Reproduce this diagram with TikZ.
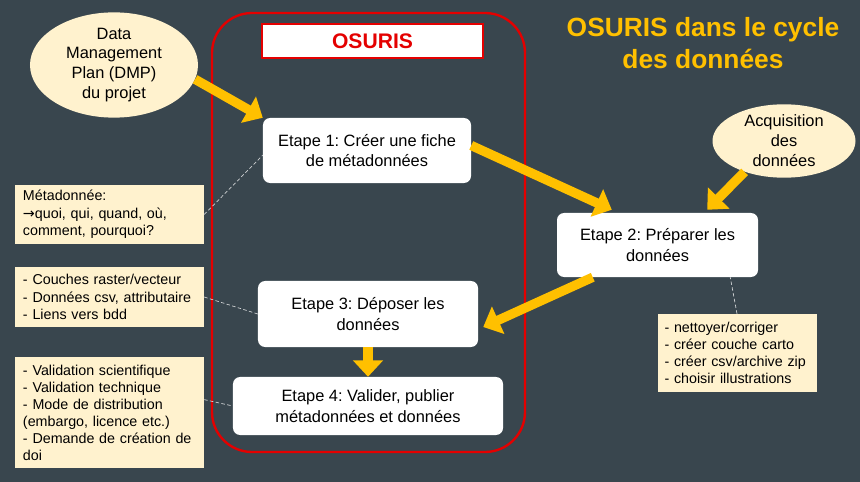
\documentclass[tikz,border=0pt]{standalone}
\usepackage{fontspec}
\setmainfont{Liberation Sans}
\newfontfamily\flechefont{DejaVu Sans}
\usetikzlibrary{calc,shapes.geometric,arrows.meta}
\definecolor{ardoise}{RGB}{57,70,78}
\definecolor{rouge}{RGB}{228,0,0}
\definecolor{ambre}{RGB}{255,192,0}
\definecolor{creme}{RGB}{255,242,206}
\definecolor{gristrait}{RGB}{205,208,210}
\frenchspacing

\begin{document}
\begin{tikzpicture}[x=0.03cm,y=-0.03cm,
  etape/.style={fill=white,rounded corners=6pt,align=center,inner sep=0pt,font=\fontsize{14}{17.8}\selectfont},
  bulle/.style={ellipse,fill=creme,inner sep=0pt,align=center,font=\fontsize{14}{17}\selectfont},
  note/.style={fill=creme,inner ysep=0pt,align=left,font=\fontsize{12.2}{14.9}\selectfont},
  fleche/.style={ambre,line width=8pt,-{Triangle[length=14pt,width=25pt]}},
  lien/.style={gristrait,dash pattern=on 3pt off 2pt,line width=0.6pt}]
\fill[ardoise] (0,0) rectangle (860,482);
% cadre OSURIS
\draw[rouge,line width=2pt,rounded corners=1.2cm] (212,13) rectangle (525,452);
\node[draw=rouge,line width=1.5pt,fill=white,minimum width=6.63cm,minimum height=1.02cm,text=rouge,font=\bfseries\fontsize{18}{20}\selectfont] (titre) at (372.5,41) {OSURIS};
\node[text=ambre,align=center,font=\bfseries\fontsize{22.5}{28}\selectfont] (entete) at (703,43) {OSURIS dans le cycle\\des données};

% bulles
\node[bulle,minimum width=5.04cm,minimum height=3.12cm] (dmp) at (114,65) {Data\\Management\\Plan (DMP)\\du projet};
\node[bulle,minimum width=4.29cm,minimum height=2.19cm] (acq) at (784,141) {Acquisition\\des\\données};

% etapes
\node[etape,minimum width=6.24cm,minimum height=1.95cm] (e1) at (367,150.5) {Etape 1: Créer une fiche\\de métadonnées};
\node[etape,minimum width=6.03cm,minimum height=1.92cm] (e2) at (657.5,245) {Etape 2: Préparer les\\données};
\node[etape,minimum width=6.6cm,minimum height=1.98cm] (e3) at (368,314) {Etape 3: Déposer les\\données};
\node[etape,minimum width=8.1cm,minimum height=1.74cm] (e4) at (368,406) {Etape 4: Valider, publier\\métadonnées et données};

% notes
\node[note,text width=5.19cm,inner xsep=0.24cm,minimum height=1.77cm] (n1) at (109.5,214.5) {Métadonnée:\\{\flechefont →}quoi, qui, quand, où,\\comment, pourquoi?};
\node[note,text width=5.19cm,inner xsep=0.24cm,minimum height=1.8cm] (n2) at (109.5,297) {- Couches raster/vecteur\\- Données csv, attributaire\\- Liens vers bdd};
\node[note,text width=5.19cm,inner xsep=0.24cm,minimum height=3.33cm,font=\fontsize{12.2}{14.5}\selectfont] (n3) at (109.5,412.5) {- Validation scientifique\\- Validation technique\\- Mode de distribution\\(embargo, licence etc.)\\- Demande de création de\\doi};
\node[note,text width=4.35cm,inner xsep=0.21cm,minimum height=2.34cm,font=\fontsize{12.2}{14.6}\selectfont] (n4) at (737,353) {- nettoyer/corriger\\- créer couche carto\\- créer csv/archive zip\\- choisir illustrations};

% fleches
\draw[fleche] (dmp.-10) -- (e1.north west);
\draw[fleche] ($(e1.east)+(0,-5)$) -- ($(e2.north west)+(55,-3)$);
\draw[fleche] (acq.218) -- ($(e2.north east)+(-51,-3)$);
\draw[fleche] ($(e2.south west)+(36,0)$) -- ($(e3.east)+(5,13)$);
\draw[fleche] (e3.south) -- (e4.north);

% liens pointilles
\draw[lien] (n1.east) -- ([yshift=-4pt]e1.west);
\draw[lien] (n2.east) -- (e3.west);
\draw[lien] ([yshift=11pt]n3.east) -- (e4.west);
\draw[lien] (n4.north) -- ($(e2.south east)+(-28,0)$);
\end{tikzpicture}
\end{document}
